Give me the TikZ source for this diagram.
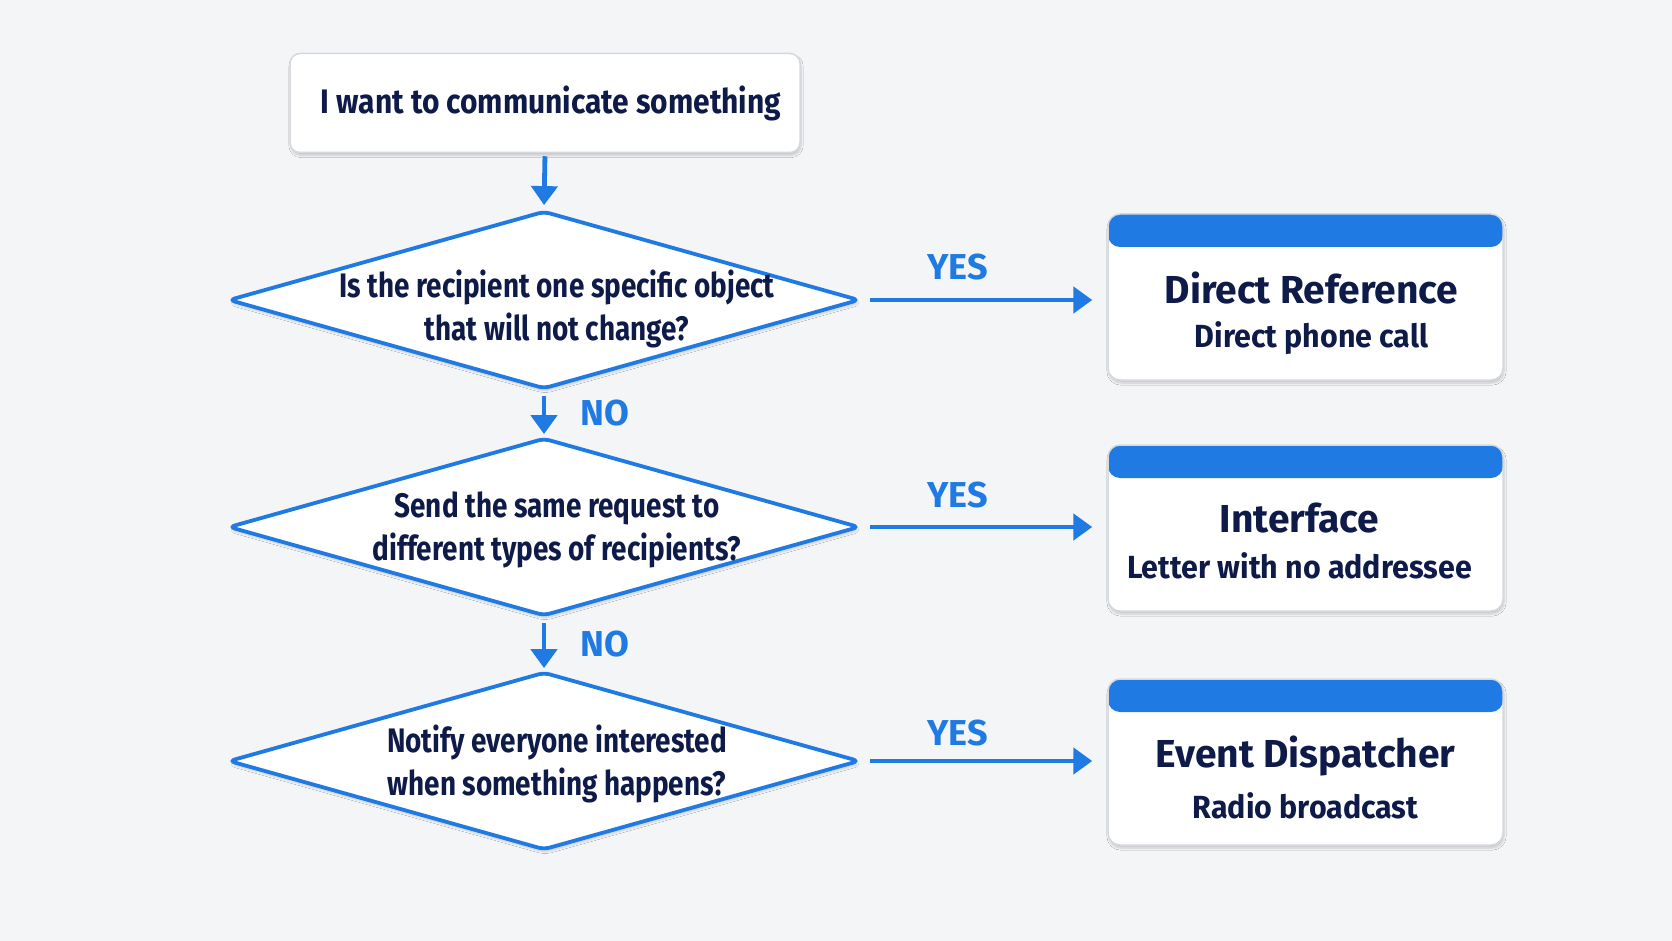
\documentclass[tikz,border=0pt]{standalone}
\usepackage{fontspec}
\setmainfont{Fira Sans}
\newfontfamily\dfont[FakeStretch=0.82]{Fira Sans}
\newfontfamily\sfont[FakeStretch=0.88]{Fira Sans}
\newfontfamily\bfont[FakeStretch=0.95]{Fira Sans}
\usetikzlibrary{shapes.geometric,arrows.meta,shadows.blur,calc}
\definecolor{bg}{HTML}{F4F5F7}
\definecolor{fblue}{HTML}{1F7BE3}
\definecolor{navy}{HTML}{0E1B48}
\definecolor{bord}{HTML}{D5D9DF}
\tikzset{
  softshadow/.style={blur shadow={shadow xshift=1pt, shadow yshift=-3pt, shadow opacity=18, shadow blur steps=8}},
  startbox/.style={draw=bord, line width=1.5pt, fill=white, rounded corners=10pt,
    minimum width=510pt, minimum height=99pt, softshadow},
  dec/.style={shape=diamond, draw=fblue, line width=3.8pt, fill=white, inner sep=0pt,
    minimum width=631pt, minimum height=178pt, rounded corners=6pt, softshadow},
  rbox/.style={draw=bord, line width=1.5pt, fill=white, rounded corners=12pt,
    minimum width=395pt, minimum height=166pt, softshadow,
    path picture={\fill[fblue] (path picture bounding box.north west) rectangle ([yshift=-33pt]path picture bounding box.north east);}},
  dtext/.style={text=navy, font=\dfont\bfseries\fontsize{34}{43}\selectfont, align=center, inner sep=0pt},
  stext/.style={text=navy, font=\sfont\bfseries\fontsize{34}{40}\selectfont, inner sep=0pt},
  ttl/.style={text=navy, font=\bfseries\fontsize{39}{44}\selectfont, inner sep=0pt},
  sub/.style={text=navy, font=\bfont\bfseries\fontsize{32}{36}\selectfont, inner sep=0pt},
  lbl/.style={text=fblue, font=\bfseries\fontsize{36}{40}\selectfont, inner sep=0pt},
  arr/.style={draw=fblue, line width=4.8pt, -{Triangle[width=26pt,length=19pt]}},
}
\begin{document}
\begin{tikzpicture}[x=1pt,y=-1pt]
\fill[bg] (0,0) rectangle (1672,941);
\useasboundingbox (0,0) rectangle (1672,941);

% start
\node[startbox] (start) at (545,103) {};
\node[stext] (startt) at (551,103) {I want to communicate something};

% decisions
\node[dec] (d1) at (544,300) {};
\node[dec] (d2) at (544,527) {};
\node[dec] (d3) at (544,761) {};
\node[dtext] (t1) at (557,309) {Is the recipient one specific object\\that will not change?};
\node[dtext] (t2) at (557,530) {Send the same request to\\different types of recipients?};
\node[dtext] (t3) at (557,764) {Notify everyone interested\\when something happens?};

% result boxes
\node[rbox] (b1) at (1305.5,297) {};
\node[rbox] (b2) at (1305.5,528) {};
\node[rbox] (b3) at (1305.5,762) {};
\node[ttl] (b1t) at ($(b1.north)+(6,75)$) {Direct Reference};
\node[sub] (b1s) at ($(b1.north)+(6,125)$) {Direct phone call};
\node[ttl] (b2t) at ($(b2.north)+(-6,74)$) {Interface};
\node[sub] (b2s) at ($(b2.north)+(-6,122)$) {Letter with no addressee};
\node[ttl] (b3t) at ($(b3.north)+(0,78)$) {Event Dispatcher};
\node[sub] (b3s) at ($(b3.north)+(0,128)$) {Radio broadcast};

% connectors
\draw[arr, shorten <=3pt, shorten >=4pt] (start.south) -- (d1.north);
\draw[arr, shorten <=5pt, shorten >=2pt] (d1.south) -- node[lbl, xshift=61pt] {NO} (d2.north);
\draw[arr, shorten <=5pt, shorten >=2pt] (d2.south) -- node[lbl, xshift=61pt] {NO} (d3.north);
\draw[arr, shorten <=9pt, shorten >=15pt] (d1.east) -- node[lbl, pos=0.39, yshift=33pt] {YES} (d1.east -| b1.west);
\draw[arr, shorten <=9pt, shorten >=15pt] (d2.east) -- node[lbl, pos=0.39, yshift=32pt] {YES} (d2.east -| b2.west);
\draw[arr, shorten <=9pt, shorten >=15pt] (d3.east) -- node[lbl, pos=0.39, yshift=28pt] {YES} (d3.east -| b3.west);
\end{tikzpicture}
\end{document}
